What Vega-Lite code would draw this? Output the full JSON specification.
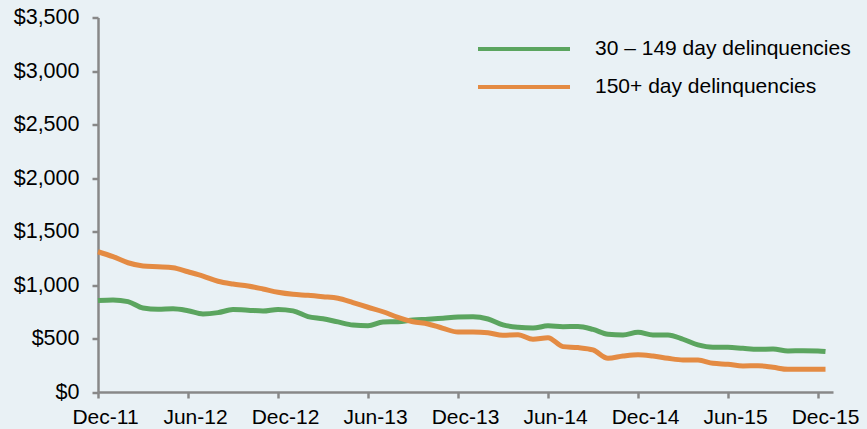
{
  "$schema": "https://vega.github.io/schema/vega-lite/v6.json",
  "width": 735,
  "height": 374.5,
  "autosize": {"type": "none"},
  "padding": {"left": 98, "top": 17.5, "right": 34, "bottom": 37},
  "background": "#E9F1F5",
  "config": {"view": {"stroke": null}, "font": "Liberation Sans"},
  "data": {"values": [
    {"t": 0, "series": "30 – 149 day delinquencies", "value": 855},
    {"t": 1, "series": "30 – 149 day delinquencies", "value": 860},
    {"t": 2, "series": "30 – 149 day delinquencies", "value": 845},
    {"t": 3, "series": "30 – 149 day delinquencies", "value": 785},
    {"t": 4, "series": "30 – 149 day delinquencies", "value": 773},
    {"t": 5, "series": "30 – 149 day delinquencies", "value": 778},
    {"t": 6, "series": "30 – 149 day delinquencies", "value": 760},
    {"t": 7, "series": "30 – 149 day delinquencies", "value": 730},
    {"t": 8, "series": "30 – 149 day delinquencies", "value": 742},
    {"t": 9, "series": "30 – 149 day delinquencies", "value": 770},
    {"t": 10, "series": "30 – 149 day delinquencies", "value": 765},
    {"t": 11, "series": "30 – 149 day delinquencies", "value": 757},
    {"t": 12, "series": "30 – 149 day delinquencies", "value": 772},
    {"t": 13, "series": "30 – 149 day delinquencies", "value": 758},
    {"t": 14, "series": "30 – 149 day delinquencies", "value": 705},
    {"t": 15, "series": "30 – 149 day delinquencies", "value": 685},
    {"t": 16, "series": "30 – 149 day delinquencies", "value": 655},
    {"t": 17, "series": "30 – 149 day delinquencies", "value": 626},
    {"t": 18, "series": "30 – 149 day delinquencies", "value": 620},
    {"t": 19, "series": "30 – 149 day delinquencies", "value": 655},
    {"t": 20, "series": "30 – 149 day delinquencies", "value": 657},
    {"t": 21, "series": "30 – 149 day delinquencies", "value": 672},
    {"t": 22, "series": "30 – 149 day delinquencies", "value": 680},
    {"t": 23, "series": "30 – 149 day delinquencies", "value": 690},
    {"t": 24, "series": "30 – 149 day delinquencies", "value": 700},
    {"t": 25, "series": "30 – 149 day delinquencies", "value": 703},
    {"t": 26, "series": "30 – 149 day delinquencies", "value": 682},
    {"t": 27, "series": "30 – 149 day delinquencies", "value": 627},
    {"t": 28, "series": "30 – 149 day delinquencies", "value": 605},
    {"t": 29, "series": "30 – 149 day delinquencies", "value": 598},
    {"t": 30, "series": "30 – 149 day delinquencies", "value": 618},
    {"t": 31, "series": "30 – 149 day delinquencies", "value": 610},
    {"t": 32, "series": "30 – 149 day delinquencies", "value": 612},
    {"t": 33, "series": "30 – 149 day delinquencies", "value": 585},
    {"t": 34, "series": "30 – 149 day delinquencies", "value": 540},
    {"t": 35, "series": "30 – 149 day delinquencies", "value": 533},
    {"t": 36, "series": "30 – 149 day delinquencies", "value": 558},
    {"t": 37, "series": "30 – 149 day delinquencies", "value": 533},
    {"t": 38, "series": "30 – 149 day delinquencies", "value": 533},
    {"t": 39, "series": "30 – 149 day delinquencies", "value": 493},
    {"t": 40, "series": "30 – 149 day delinquencies", "value": 440},
    {"t": 41, "series": "30 – 149 day delinquencies", "value": 418},
    {"t": 42, "series": "30 – 149 day delinquencies", "value": 418},
    {"t": 43, "series": "30 – 149 day delinquencies", "value": 408},
    {"t": 44, "series": "30 – 149 day delinquencies", "value": 399},
    {"t": 45, "series": "30 – 149 day delinquencies", "value": 402},
    {"t": 46, "series": "30 – 149 day delinquencies", "value": 384},
    {"t": 47, "series": "30 – 149 day delinquencies", "value": 386},
    {"t": 48, "series": "30 – 149 day delinquencies", "value": 383},
    {"t": 48.5, "series": "30 – 149 day delinquencies", "value": 378},
    {"t": 0, "series": "150+ day delinquencies", "value": 1311},
    {"t": 1, "series": "150+ day delinquencies", "value": 1265},
    {"t": 2, "series": "150+ day delinquencies", "value": 1208},
    {"t": 3, "series": "150+ day delinquencies", "value": 1178},
    {"t": 4, "series": "150+ day delinquencies", "value": 1171},
    {"t": 5, "series": "150+ day delinquencies", "value": 1162},
    {"t": 6, "series": "150+ day delinquencies", "value": 1124},
    {"t": 7, "series": "150+ day delinquencies", "value": 1084},
    {"t": 8, "series": "150+ day delinquencies", "value": 1035},
    {"t": 9, "series": "150+ day delinquencies", "value": 1009},
    {"t": 10, "series": "150+ day delinquencies", "value": 991},
    {"t": 11, "series": "150+ day delinquencies", "value": 963},
    {"t": 12, "series": "150+ day delinquencies", "value": 932},
    {"t": 13, "series": "150+ day delinquencies", "value": 913},
    {"t": 14, "series": "150+ day delinquencies", "value": 904},
    {"t": 15, "series": "150+ day delinquencies", "value": 891},
    {"t": 16, "series": "150+ day delinquencies", "value": 876},
    {"t": 17, "series": "150+ day delinquencies", "value": 835},
    {"t": 18, "series": "150+ day delinquencies", "value": 792},
    {"t": 19, "series": "150+ day delinquencies", "value": 750},
    {"t": 20, "series": "150+ day delinquencies", "value": 698},
    {"t": 21, "series": "150+ day delinquencies", "value": 657},
    {"t": 22, "series": "150+ day delinquencies", "value": 636},
    {"t": 23, "series": "150+ day delinquencies", "value": 595},
    {"t": 24, "series": "150+ day delinquencies", "value": 560},
    {"t": 25, "series": "150+ day delinquencies", "value": 561},
    {"t": 26, "series": "150+ day delinquencies", "value": 554},
    {"t": 27, "series": "150+ day delinquencies", "value": 530},
    {"t": 28, "series": "150+ day delinquencies", "value": 536},
    {"t": 29, "series": "150+ day delinquencies", "value": 493},
    {"t": 30, "series": "150+ day delinquencies", "value": 508},
    {"t": 31, "series": "150+ day delinquencies", "value": 424},
    {"t": 32, "series": "150+ day delinquencies", "value": 415},
    {"t": 33, "series": "150+ day delinquencies", "value": 393},
    {"t": 34, "series": "150+ day delinquencies", "value": 315},
    {"t": 35, "series": "150+ day delinquencies", "value": 336},
    {"t": 36, "series": "150+ day delinquencies", "value": 349},
    {"t": 37, "series": "150+ day delinquencies", "value": 336},
    {"t": 38, "series": "150+ day delinquencies", "value": 315},
    {"t": 39, "series": "150+ day delinquencies", "value": 299},
    {"t": 40, "series": "150+ day delinquencies", "value": 298},
    {"t": 41, "series": "150+ day delinquencies", "value": 268},
    {"t": 42, "series": "150+ day delinquencies", "value": 259},
    {"t": 43, "series": "150+ day delinquencies", "value": 243},
    {"t": 44, "series": "150+ day delinquencies", "value": 246},
    {"t": 45, "series": "150+ day delinquencies", "value": 231},
    {"t": 46, "series": "150+ day delinquencies", "value": 212},
    {"t": 47, "series": "150+ day delinquencies", "value": 212},
    {"t": 48, "series": "150+ day delinquencies", "value": 212},
    {"t": 48.5, "series": "150+ day delinquencies", "value": 212}
  ]},
  "mark": {"type": "line", "interpolate": "monotone", "strokeWidth": 5},
  "encoding": {
    "x": {
      "field": "t",
      "type": "quantitative",
      "scale": {"domain": [0, 49], "nice": false, "zero": false},
      "axis": {
        "title": null,
        "values": [0, 6, 12, 18, 24, 30, 36, 42, 48],
        "labelExpr": "['Dec-11','Jun-12','Dec-12','Jun-13','Dec-13','Jun-14','Dec-14','Jun-15','Dec-15'][round(datum.value/6)]",
        "grid": false,
        "domainColor": "#888888",
        "domainWidth": 2.5,
        "tickColor": "#888888",
        "tickWidth": 2.5,
        "tickSize": 6,
        "labelFontSize": 21,
        "labelColor": "#000000",
        "labelPadding": 8,
        "labelOffset": 7,
        "labelFlush": false,
        "labelOverlap": false
      }
    },
    "y": {
      "field": "value",
      "type": "quantitative",
      "scale": {"domain": [0, 3500], "nice": false},
      "axis": {
        "title": null,
        "values": [0, 500, 1000, 1500, 2000, 2500, 3000, 3500],
        "format": "$,.0f",
        "grid": false,
        "domainColor": "#888888",
        "domainWidth": 2.5,
        "tickColor": "#888888",
        "tickWidth": 2.5,
        "tickSize": 6,
        "labelFontSize": 21.5,
        "labelColor": "#000000",
        "labelPadding": 13,
        "labelFlush": false,
        "labelOverlap": false
      }
    },
    "color": {
      "field": "series",
      "type": "nominal",
      "scale": {
        "domain": ["30 – 149 day delinquencies", "150+ day delinquencies"],
        "range": ["#5BA55F", "#E48B43"]
      },
      "legend": {
        "title": null,
        "orient": "none",
        "legendX": 378,
        "legendY": 21.5,
        "symbolType": "stroke",
        "symbolSize": 8464,
        "symbolStrokeWidth": 4,
        "clipHeight": 20,
        "rowPadding": 17,
        "labelFontSize": 21,
        "labelOffset": 23,
        "labelColor": "#000000",
        "labelLimit": 400,
        "labelExpr": "datum.label == '30 – 149 day delinquencies' ? '\u00a0' + datum.label : datum.label"
      }
    }
  }
}
